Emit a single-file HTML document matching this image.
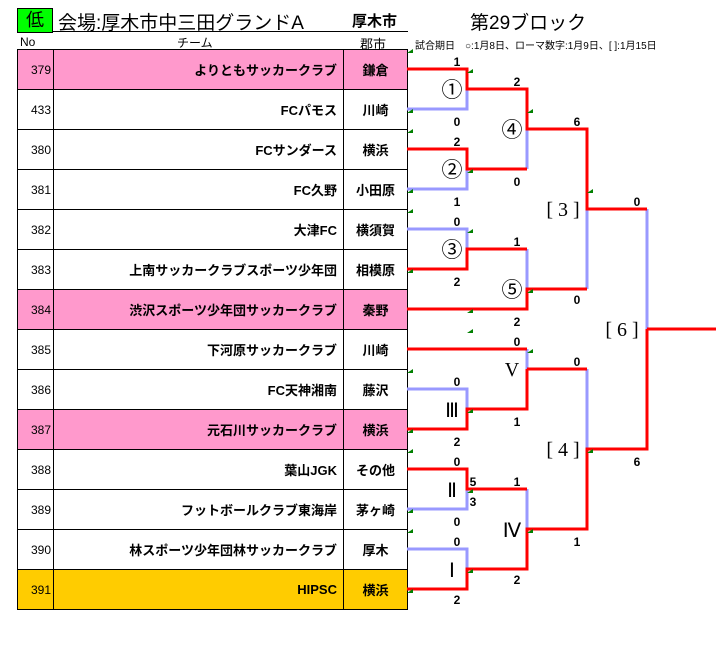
<!DOCTYPE html>
<html><head><meta charset="utf-8"><style>
body{margin:0;width:716px;height:645px;background:#fff;position:relative;overflow:hidden;font-family:"Liberation Sans","Noto Sans CJK JP",sans-serif;}
.a{position:absolute;white-space:nowrap;}
table{position:absolute;left:17px;top:49px;border-collapse:collapse;}
td{border:1px solid #000;height:39px;padding:0;font-size:13px;}
td.n{text-align:right;padding-right:2px;font-size:12px;width:33px;}
td.t{width:283px;text-align:right;padding-right:6px;font-weight:bold;}
td.c{width:63px;text-align:center;font-weight:bold;}
tr.p td{background:#ff99cc;}
tr.o td{background:#ffcc00;}
</style></head><body>
<div class="a" style="left:17px;top:8px;width:34px;height:23px;background:#00ff00;border:1px solid #000;font-size:18px;text-align:center;line-height:23px;">低</div>
<div class="a" style="left:58px;top:8px;font-size:19px;">会場:厚木市中三田グランドA</div>
<div class="a" style="left:352px;top:10px;font-size:15px;font-weight:bold;">厚木市</div>
<div class="a" style="left:53px;top:31px;width:355px;height:1px;background:#000;"></div>
<div class="a" style="left:20px;top:35px;font-size:12px;">No</div>
<div class="a" style="left:177px;top:34px;font-size:12px;">チーム</div>
<div class="a" style="left:360px;top:34px;font-size:13px;">郡市</div>
<div class="a" style="left:470px;top:8px;font-size:19px;">第29ブロック</div>
<div class="a" style="left:415px;top:37px;font-size:10px;">試合期日　○:1月8日、ローマ数字:1月9日、[ ]:1月15日</div>
<table>
<tr class="p"><td class="n">379</td><td class="t">よりともサッカークラブ</td><td class="c">鎌倉</td></tr>
<tr><td class="n">433</td><td class="t">FCパモス</td><td class="c">川崎</td></tr>
<tr><td class="n">380</td><td class="t">FCサンダース</td><td class="c">横浜</td></tr>
<tr><td class="n">381</td><td class="t">FC久野</td><td class="c">小田原</td></tr>
<tr><td class="n">382</td><td class="t">大津FC</td><td class="c">横須賀</td></tr>
<tr><td class="n">383</td><td class="t">上南サッカークラブスポーツ少年団</td><td class="c">相模原</td></tr>
<tr class="p"><td class="n">384</td><td class="t">渋沢スポーツ少年団サッカークラブ</td><td class="c">秦野</td></tr>
<tr><td class="n">385</td><td class="t">下河原サッカークラブ</td><td class="c">川崎</td></tr>
<tr><td class="n">386</td><td class="t">FC天神湘南</td><td class="c">藤沢</td></tr>
<tr class="p"><td class="n">387</td><td class="t">元石川サッカークラブ</td><td class="c">横浜</td></tr>
<tr><td class="n">388</td><td class="t">葉山JGK</td><td class="c">その他</td></tr>
<tr><td class="n">389</td><td class="t">フットボールクラブ東海岸</td><td class="c">茅ヶ崎</td></tr>
<tr><td class="n">390</td><td class="t">林スポーツ少年団林サッカークラブ</td><td class="c">厚木</td></tr>
<tr class="o"><td class="n">391</td><td class="t">HIPSC</td><td class="c">横浜</td></tr>
</table>
<svg class="a" style="left:0;top:0" width="716" height="645" fill="none" stroke-width="3">
<g stroke="#9999ff">
<path d="M407 109H467V89"/><path d="M407 189H467V169"/><path d="M527 129V169"/>
<path d="M407 229H467V249"/><path d="M527 249V289"/><path d="M587 209V289"/>
<path d="M647 209V329"/><path d="M527 349V369"/><path d="M407 389H467V409"/>
<path d="M407 509H467V489"/><path d="M407 549H467V569"/><path d="M527 489V529"/><path d="M587 369V449"/>
</g>
<g stroke="#ff0000">
<path d="M407 69H467V89H527V129H587V209H647"/>
<path d="M407 149H467V169H527"/>
<path d="M407 269H467V249H527"/>
<path d="M407 309H527V289H587"/>
<path d="M647 329H716M647 329V449H587V529H527V569H467V589H407"/>
<path d="M407 349H527"/><path d="M527 369H587"/><path d="M527 369V409H467V429H407"/>
<path d="M407 469H467V489H527"/>
</g>
<g fill="#008000" stroke="none">
<path d="M407 53l6-4v4z"/><path d="M467 73l6-4v4z"/><path d="M407 113l6-4v4z"/><path d="M407 133l6-4v4z"/><path d="M527 113l6-4v4z"/><path d="M467 173l6-4v4z"/><path d="M407 193l6-4v4z"/><path d="M407 213l6-4v4z"/><path d="M587 193l6-4v4z"/><path d="M467 233l6-4v4z"/><path d="M407 273l6-4v4z"/><path d="M527 293l6-4v4z"/><path d="M467 313l6-4v4z"/><path d="M467 333l6-4v4z"/><path d="M527 353l6-4v4z"/><path d="M407 373l6-4v4z"/><path d="M467 413l6-4v4z"/><path d="M407 433l6-4v4z"/><path d="M407 453l6-4v4z"/><path d="M587 453l6-4v4z"/><path d="M467 493l6-4v4z"/><path d="M407 513l6-4v4z"/><path d="M407 533l6-4v4z"/><path d="M527 533l6-4v4z"/><path d="M467 573l6-4v4z"/><path d="M407 593l6-4v4z"/>
</g>
<g fill="#000" stroke="none" font-family="Liberation Sans,sans-serif" font-size="12" font-weight="bold" text-anchor="middle">
<text x="457" y="66">1</text><text x="457" y="126">0</text><text x="457" y="146">2</text><text x="457" y="206">1</text><text x="457" y="226">0</text><text x="457" y="286">2</text>
<text x="517" y="86">2</text><text x="517" y="186">0</text><text x="517" y="246">1</text><text x="517" y="326">2</text><text x="517" y="346">0</text><text x="517" y="426">1</text>
<text x="577" y="126">6</text><text x="577" y="304">0</text><text x="637" y="206">0</text><text x="637" y="466">6</text>
<text x="457" y="386">0</text><text x="457" y="446">2</text><text x="457" y="466">0</text><text x="473" y="486">5</text><text x="473" y="506">3</text><text x="457" y="526">0</text><text x="457" y="546">0</text><text x="457" y="604">2</text>
<text x="517" y="486">1</text><text x="517" y="584">2</text><text x="577" y="366">0</text><text x="577" y="546">1</text>
</g>
<g fill="#000" stroke="none" font-family="Liberation Serif,Noto Sans CJK JP,serif" font-size="21" text-anchor="middle">
<text x="452" y="97">①</text><text x="452" y="177">②</text><text x="512" y="137">④</text><text x="452" y="257">③</text><text x="512" y="297">⑤</text>
</g>
<g fill="#000" stroke="none" font-family="Liberation Serif,serif" font-size="20" text-anchor="middle">
<text x="512" y="376">V</text><text x="452" y="417">Ⅲ</text><text x="452" y="497">Ⅱ</text><text x="512" y="537">Ⅳ</text><text x="452" y="577">Ⅰ</text>
<text x="563" y="216">[ 3 ]</text><text x="622" y="336">[ 6 ]</text><text x="563" y="456">[ 4 ]</text>
</g>
</svg>
</body></html>
